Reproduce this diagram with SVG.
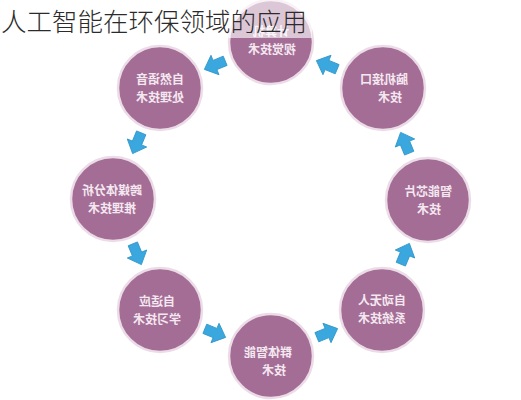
<svg xmlns="http://www.w3.org/2000/svg" width="521" height="400" viewBox="0 0 521 400">
<defs>
<style>
.n{fill:#a46d96;stroke:#ecdce7;stroke-width:2.5}
.t{font-family:"Noto Sans CJK SC","Noto Sans CJK JP",sans-serif;font-size:12px;font-weight:bold;fill:#f4e8f0;text-anchor:middle}
.a{fill:#3aa7de;stroke:#2f95c8;stroke-width:0.8;stroke-linejoin:round}
.title{font-family:"Noto Sans CJK SC","Noto Sans CJK JP",sans-serif;font-size:25.5px;font-weight:300;fill:#2b2b2b}
</style>
<path id="arr" d="M-11,-5 H0 V-10.5 L11.5,0 L0,10.5 V5 H-11 Z"/>
</defs>
<rect width="521" height="400" fill="#ffffff"/>
<g id="connectors">
<use href="#arr" class="a" transform="translate(327,65) rotate(-157.5)"/>
<use href="#arr" class="a" transform="translate(215,65) rotate(157.5)"/>
<use href="#arr" class="a" transform="translate(137,143) rotate(112.5)"/>
<use href="#arr" class="a" transform="translate(137,254) rotate(67.5)"/>
<use href="#arr" class="a" transform="translate(215,333) rotate(22.5)"/>
<use href="#arr" class="a" transform="translate(327,333) rotate(-22.5)"/>
<use href="#arr" class="a" transform="translate(405,254) rotate(-67.5)"/>
<use href="#arr" class="a" transform="translate(405,143) rotate(-112.5)"/>
</g>
<g id="node-top">
<circle class="n" cx="271" cy="42" r="42"/>
<text class="t" transform="translate(271,36) scale(-1,1)">计算机</text>
<text class="t" transform="translate(272,54) scale(-1,1)">视觉技术</text>
</g>
<g id="node-upper-left">
<circle class="n" cx="160" cy="88" r="42"/>
<text class="t" transform="translate(160,84) scale(-1,1)">自然语音</text>
<text class="t" transform="translate(160,102) scale(-1,1)">处理技术</text>
</g>
<g id="node-upper-right">
<circle class="n" cx="383" cy="88" r="42"/>
<text class="t" transform="translate(384,84) scale(-1,1)">脑机接口</text>
<text class="t" transform="translate(390,102) scale(-1,1)">技术</text>
</g>
<g id="node-left">
<circle class="n" cx="113" cy="199" r="42"/>
<text class="t" transform="translate(112,195) scale(-1,1)">跨媒体分析</text>
<text class="t" transform="translate(112,213) scale(-1,1)">推理技术</text>
</g>
<g id="node-right">
<circle class="n" cx="428" cy="200" r="42"/>
<text class="t" transform="translate(428,196) scale(-1,1)">智能芯片</text>
<text class="t" transform="translate(429,214) scale(-1,1)">技术</text>
</g>
<g id="node-lower-left">
<circle class="n" cx="160" cy="310" r="42"/>
<text class="t" transform="translate(157,306) scale(-1,1)">自适应</text>
<text class="t" transform="translate(157,324) scale(-1,1)">学习技术</text>
</g>
<g id="node-bottom">
<circle class="n" cx="271" cy="356" r="42"/>
<text class="t" transform="translate(268,357) scale(-1,1)">群体智能</text>
<text class="t" transform="translate(274,375) scale(-1,1)">技术</text>
</g>
<g id="node-lower-right">
<circle class="n" cx="382" cy="310" r="42"/>
<text class="t" transform="translate(382,305) scale(-1,1)">自动无人</text>
<text class="t" transform="translate(382,323) scale(-1,1)">系统技术</text>
</g>
<rect x="0" y="0" width="312" height="38" fill="#ffffff" fill-opacity="0.62"/>
<text class="title" x="1" y="31">人工智能在环保领域的应用</text>
</svg>
